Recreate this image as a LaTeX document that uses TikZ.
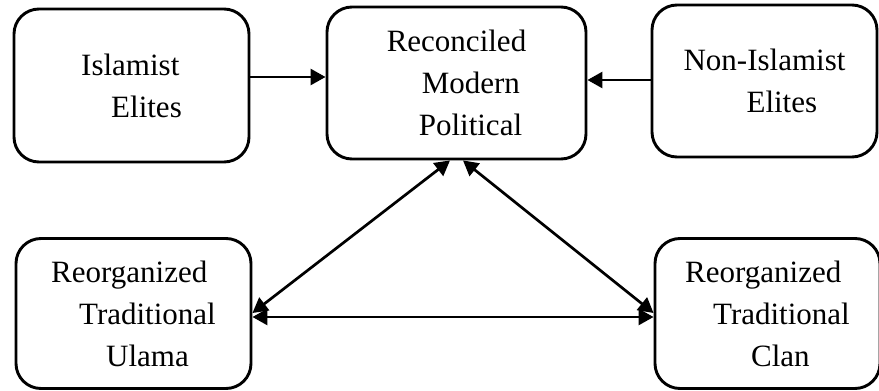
\documentclass[tikz,border=0pt]{standalone}
\usepackage{fontspec}
\setmainfont{Liberation Serif}
\usetikzlibrary{arrows.meta}
\begin{document}
\begin{tikzpicture}[x=1pt,y=-1pt,
  box/.style={draw=black, line width=2.9pt, rounded corners=25pt, inner sep=0pt,
    align=left, font=\fontsize{31}{42}\selectfont},
  arr/.style={line width=2.7pt, -{Triangle[length=15pt,width=16pt]}},
  darr/.style={line width=2.7pt, {Triangle[length=15pt,width=16pt]}-{Triangle[length=15pt,width=16pt]}}]
\useasboundingbox (0,0) rectangle (879,391);
\node[box, minimum width=235pt, minimum height=153pt] (b1) at (131.5,85.5)
  {Islamist\\\hspace*{30pt}Elites};
\node[box, minimum width=259pt, minimum height=152pt] (b2) at (456.5,83)
  {Reconciled\\\hspace*{35pt}Modern\\\hspace*{32pt}Political};
\node[box, minimum width=225pt, minimum height=152pt] (b3) at (764.5,81)
  {Non-Islamist\\\hspace*{63pt}Elites};
\node[box, minimum width=235pt, minimum height=150pt] (b4) at (133.5,313.5)
  {Reorganized\\\hspace*{28pt}Traditional\\\hspace*{55pt}Ulama};
\node[box, minimum width=225pt, minimum height=150pt] (b5) at (767.5,313.5)
  {Reorganized\\\hspace*{28pt}Traditional\\\hspace*{66pt}Clan};
\draw[arr] (b1.east |- 0,77) -- (b2.west |- 0,77);
\draw[arr] (b3.west |- 0,80) -- (b2.east |- 0,80);
\draw[darr] (b2.south -| 450,0) -- (b4.east |- 0,313);
\draw[darr] (b2.south -| 463,0) -- (b5.west |- 0,313);
\draw[darr] (b4.east |- 0,317) -- (b5.west |- 0,317);
\end{tikzpicture}
\end{document}
